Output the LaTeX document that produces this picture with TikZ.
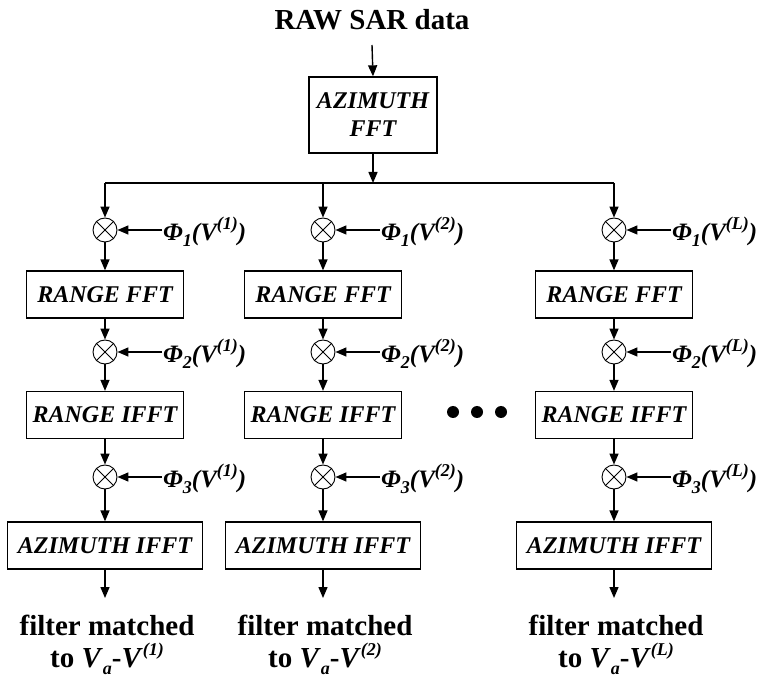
\documentclass[tikz,border=0pt]{standalone}
\usepackage{fontspec}
\setmainfont{Liberation Serif}
\usetikzlibrary{arrows.meta}
\newcommand\myboxfont{\fontsize{24}{28}\selectfont\bfseries\itshape}
\newcommand\mylblfont{\fontsize{25}{29}\selectfont\bfseries\itshape}
\newcommand\mytxtfont{\fontsize{29}{32}\selectfont\bfseries}
\newcommand\mysub[1]{\raisebox{-0.25em}{\fontsize{18}{18}\selectfont #1}}
\newcommand\mysup[1]{\raisebox{0.42em}{\fontsize{18}{18}\selectfont #1}}
\begin{document}
\begin{tikzpicture}[x=1pt,y=-1pt,
  stagebox/.style={draw, line width=1.3pt, minimum height=47pt, inner sep=0pt, font=\myboxfont},
  mult/.style={draw, circle, minimum size=24pt, inner sep=0pt, line width=0.9pt},
  arr/.style={-{Triangle[length=11pt,width=9pt]}, line width=1.4pt},
  lbl/.style={anchor=west, font=\mylblfont, inner sep=1pt},
  outtxt/.style={font=\mytxtfont, align=center, inner sep=0pt}]
\useasboundingbox (0,0) rectangle (769,684);
\node[font=\mytxtfont, anchor=base, inner sep=0pt] (title) at (372,30) {RAW SAR data};
\node[stagebox, minimum width=128pt, minimum height=76pt, align=center] (azf) at (373,115) {AZIMUTH\\FFT};
\coordinate (busmid) at (373,183);
\coordinate (busL) at (105,183);
\coordinate (busR) at (614,183);
\draw[arr] (title.south |- 0,45) -- (azf.north);
\draw[arr] (azf.south) -- (busmid);
\draw[line width=1.4pt] (busL) -- (busR);
\foreach \c/\x/\s in {1/105/1, 2/323/2, 3/614/L}{
  \coordinate (top\c) at (\x,183);
  \node[mult] (ma\c) at (\x,230) {};
  \node[stagebox, minimum width=157pt] (rf\c) at (\x,294.5) {RANGE FFT};
  \node[mult] (mb\c) at (\x,352) {};
  \node[stagebox, minimum width=157pt] (ri\c) at (\x,415) {RANGE IFFT};
  \node[mult] (mc\c) at (\x,477) {};
  \node[stagebox, minimum width=195pt] (ai\c) at (\x,545.5) {AZIMUTH IFFT};
  \coordinate (end\c) at (\x,598);
  \node[outtxt] (out\c) at (\x+2,645) {filter matched\\to \textit{V}\mysub{\textit{a}}-\textit{V}\mysup{\textit{(\s)}}};
  \node[lbl] (pa\c) at (\x+57,232) {Φ\mysub{1}(V\mysup{(\s)})};
  \node[lbl] (pb\c) at (\x+57,354) {Φ\mysub{2}(V\mysup{(\s)})};
  \node[lbl] (pc\c) at (\x+57,479) {Φ\mysub{3}(V\mysup{(\s)})};
  \foreach \m in {ma,mb,mc}{
    \draw[line width=0.9pt] (\m\c.45) -- (\m\c.225) (\m\c.135) -- (\m\c.315);
  }
  \draw[arr] (top\c) -- (ma\c);
  \draw[arr] (ma\c) -- (rf\c);
  \draw[arr] (rf\c) -- (mb\c);
  \draw[arr] (mb\c) -- (ri\c);
  \draw[arr] (ri\c) -- (mc\c);
  \draw[arr] (mc\c) -- (ai\c);
  \draw[arr] (ai\c) -- (end\c);
  \draw[arr] (pa\c.west |- ma\c) -- (ma\c.east);
  \draw[arr] (pb\c.west |- mb\c) -- (mb\c.east);
  \draw[arr] (pc\c.west |- mc\c) -- (mc\c.east);
}
\foreach \i/\dx in {1/453,2/477,3/501}{
  \fill (\dx,412) circle (6pt) coordinate (dot\i);
}
\end{tikzpicture}
\end{document}
